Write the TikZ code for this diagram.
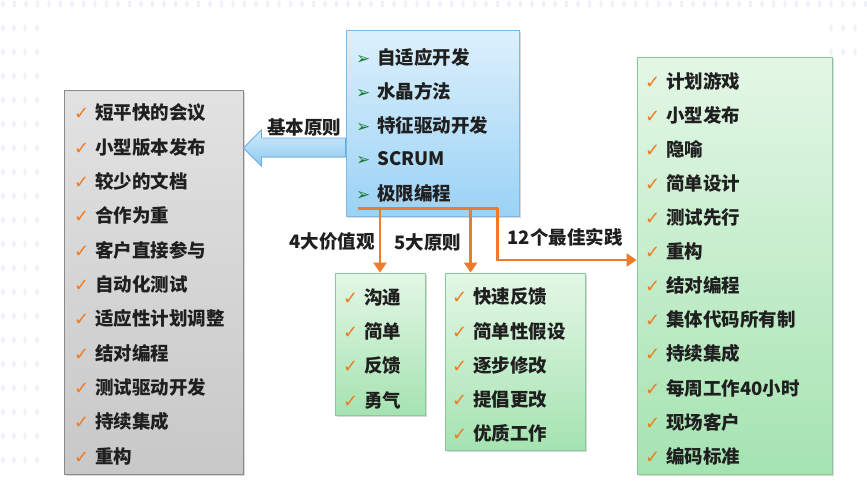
\documentclass[tikz,border=0pt]{standalone}
\usepackage{fontspec}
\setmainfont{Noto Sans CJK SC}
\newfontfamily\symfont{DejaVu Sans}
\usetikzlibrary{calc,shadows,arrows.meta}

\definecolor{textdark}{HTML}{1F1F1F}
\definecolor{tickorange}{HTML}{F07A22}
\definecolor{linkorange}{HTML}{EE7A2C}
\definecolor{pointgreen}{HTML}{1E7B3C}
\definecolor{graytop}{HTML}{E2E2E2}
\definecolor{graybot}{HTML}{C8C8C8}
\definecolor{graybd}{HTML}{8A8A8A}
\definecolor{bluetop}{HTML}{DDF0FC}
\definecolor{bluebot}{HTML}{9AD2F5}
\definecolor{bluebd}{HTML}{7DB9E3}
\definecolor{greentop}{HTML}{E4F7E6}
\definecolor{greenbot}{HTML}{A5E3B1}
\definecolor{greenbd}{HTML}{8CC79B}
\definecolor{arrowtop}{HTML}{D2EAFB}
\definecolor{arrowbot}{HTML}{8CCAF2}
\definecolor{arrowbd}{HTML}{66ABDF}
\definecolor{dotc}{HTML}{EEF2F8}

\newcommand{\tick}{\makebox[21pt][l]{\symfont\fontsize{18}{18}\selectfont\color{tickorange}✓}}
\newcommand{\pointer}{\makebox[21pt][l]{\symfont\fontsize{17}{17}\selectfont\color{pointgreen}➢}}

\tikzset{
  txt/.style={inner sep=0pt, text=textdark, font=\bfseries\fontsize{18.5}{20}\selectfont},
  item/.style={txt, anchor=west},
  box/.style={draw, line width=0.8pt, inner sep=0pt,
    drop shadow={shadow xshift=2pt, shadow yshift=-2pt, opacity=0.3}},
  graybox/.style={box, draw=graybd, top color=graytop, bottom color=graybot},
  bluebox/.style={box, draw=bluebd, top color=bluetop, bottom color=bluebot},
  greenbox/.style={box, draw=greenbd, top color=greentop, bottom color=greenbot},
  blockarrow/.style={draw=arrowbd, line width=0.8pt, top color=arrowtop, bottom color=arrowbot},
  link/.style={draw=linkorange, line width=2.8pt, -{Triangle[length=10pt,width=13pt]}}
}

\begin{document}
\begin{tikzpicture}[x=1pt, y=-1pt]
  \useasboundingbox (0,0) rectangle (867,482);

  % faint dotted backdrop
  \foreach \x in {3,14.5,...,866} \fill[dotc] (\x,4) ellipse (1.8pt and 3.5pt);
  \foreach \y in {28,52,...,482} {
    \foreach \x in {3,14,25,37} \fill[dotc] (\x,\y) ellipse (1.8pt and 3.5pt);
  }
  \foreach \y in {28,52} {
    \foreach \x in {831,843,855} \fill[dotc] (\x,\y) ellipse (1.8pt and 3.5pt);
  }

  % boxes
  \node[graybox, minimum width=179pt, minimum height=384pt] (basic) at (153.5,282) {};
  \node[bluebox, minimum width=173pt, minimum height=186pt] (xp) at (432.5,123) {};
  \node[greenbox, minimum width=90pt, minimum height=142pt] (values) at (380,344) {};
  \node[greenbox, minimum width=140pt, minimum height=177pt] (principles) at (515,361.5) {};
  \node[greenbox, minimum width=195pt, minimum height=417pt] (practices) at (734.5,265.5) {};

  % lists
  \foreach \t [count=\i] in {短平快的会议,小型版本发布,较少的文档,合作为重,客户直接参与,
      自动化测试,适应性计划调整,结对编程,测试驱动开发,持续集成,重构}
    \node[item] (basic\i) at (74,78.7+34.3*\i) {\tick\t};
  \foreach \t [count=\i] in {自适应开发,水晶方法,特征驱动开发,SCRUM,极限编程}
    \node[item] (xp\i) at (356,23+34*\i) {\pointer\t};
  \foreach \t [count=\i] in {沟通,简单,反馈,勇气}
    \node[item] (values\i) at (343,263+34.3*\i) {\tick\t};
  \foreach \t [count=\i] in {快速反馈,简单性假设,逐步修改,提倡更改,优质工作}
    \node[item] (principles\i) at (452,263+34*\i) {\tick\t};
  \foreach \t [count=\i] in {计划游戏,小型发布,隐喻,简单设计,测试先行,重构,
      结对编程,集体代码所有制,持续集成,每周工作40小时,现场客户,编码标准}
    \node[item] (practices\i) at (645,47+34.1*\i) {\tick\t};

  % blue block arrow to the left box
  \coordinate (tip) at (basic.east |- 0,148);
  \coordinate (shaftend) at (xp.west |- 0,148);
  \filldraw[blockarrow] (tip) -- ++(18,-18) -- ++(0,8) -- ($(shaftend)+(0,-10)$)
    -- ($(shaftend)+(0,9)$) -- ($(tip)+(18,9)$) -- ($(tip)+(18,18)$) -- cycle;
  \node[txt] (lbbasic) at (304,127) {基本原则};

  % orange links
  \coordinate (fork) at ($(xp.south west)+(12,-8)$);
  \coordinate (bend) at ($(xp.south west)+(152,-8)$);
  \coordinate (fivein) at ($(principles.north west)+(26,0)$);
  \draw[link, -] (fork) -- (bend);
  \draw[link] (fork -| values.north) -- (values.north);
  \draw[link] (fork -| fivein) -- (fivein);
  \draw[link] (bend) -- (bend |- 0,260) -- (practices.west |- 0,260);

  \node[txt] (lbvalues) at (332,242) {4大价值观};
  \node[txt] (lbprinciples) at (428,242) {5大原则};
  \node[txt] (lbpractices) at (565,237) {12个最佳实践};
\end{tikzpicture}
\end{document}
